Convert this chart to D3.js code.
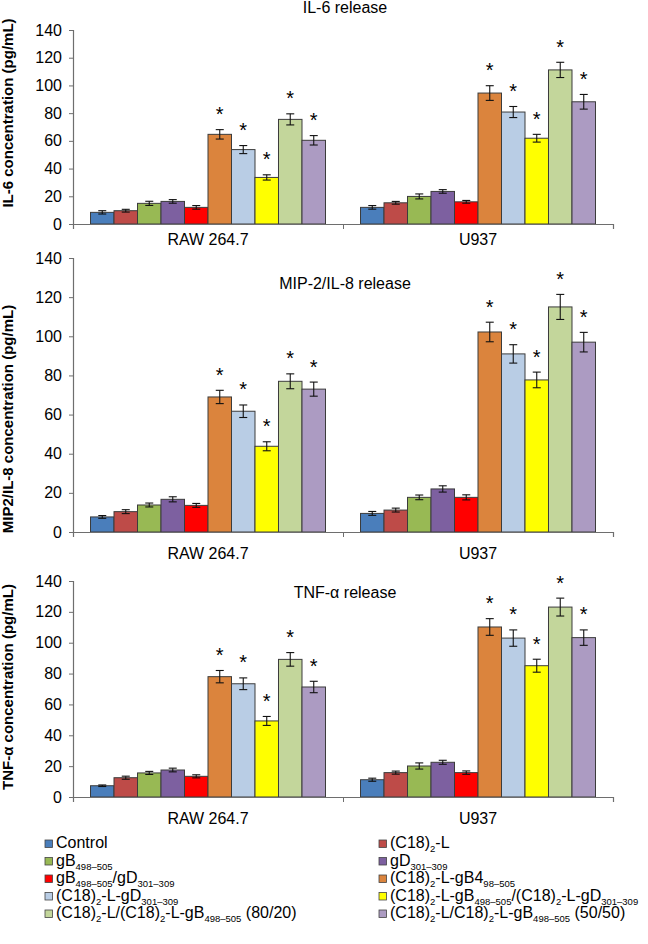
<!DOCTYPE html>
<html><head><meta charset="utf-8">
<script src="https://cdn.jsdelivr.net/npm/d3@7"></script>
<style>
body{margin:0;background:#fff}
svg text{font-family:"Liberation Sans",Arial,sans-serif;fill:#000}
</style>
</head><body>
<svg id="c" width="648" height="944"></svg>
<script>
// ---------------- data ----------------
const categories = ["RAW 264.7", "U937"];
const seriesNames = [
  "Control",
  "(C18)_{2}-L",
  "gB_{498–505}",
  "gD_{301–309}",
  "gB_{498–505}/gD_{301–309}",
  "(C18)_{2}-L-gB4_{98–505}",
  "(C18)_{2}-L-gD_{301–309}",
  "(C18)_{2}-L-gB_{498–505}/(C18)_{2}-L-gD_{301–309}",
  "(C18)_{2}-L/(C18)_{2}-L-gB_{498–505} (80/20)",
  "(C18)_{2}-L/C18)_{2}-L-gB_{498–505} (50/50)"
];
const seriesColors = ["#4A7EBB","#BE4B48","#98B954","#7D60A0","#FF0000","#DB843D","#B9CDE5","#FFFF00","#C3D69B","#AC9BC2"];
const significant = [false,false,false,false,false,true,true,true,true,true];
const yTicks = [0,20,40,60,80,100,120,140];
const panelTitles = ["IL-6 release","MIP-2/IL-8 release","TNF-α release"];
const yTitles = ["IL-6 concentration (pg/mL)","MIP2/IL-8 concentration (pg/mL)","TNF-α concentration (pg/mL)"];

// IL-6
const il6Raw      = [8.4, 9.6, 14.9, 16.3, 12.0, 64.7, 53.7, 33.6, 75.5, 60.4];
const il6RawErr   = [1.2, 1.0, 1.5, 1.3, 1.3, 3.4, 2.9, 1.9, 4.0, 3.4];
const il6U937     = [12.0, 15.3, 19.9, 23.5, 16.0, 94.5, 80.8, 61.9, 111.2, 88.2];
const il6U937Err  = [1.3, 1.0, 1.8, 1.3, 1.0, 5.3, 4.0, 2.8, 5.5, 5.3];
// MIP-2 / IL-8
const mipRaw      = [7.7, 10.4, 13.8, 16.7, 13.6, 69.0, 61.7, 43.8, 77.0, 73.0];
const mipRawErr   = [0.7, 1.0, 1.0, 1.3, 1.0, 3.4, 3.2, 2.3, 3.8, 3.6];
const mipU937     = [9.5, 11.2, 17.7, 22.0, 17.7, 102.2, 91.0, 77.7, 115.0, 97.0];
const mipU937Err  = [1.0, 1.0, 1.2, 1.6, 1.3, 5.0, 4.7, 4.0, 6.4, 5.0];
// TNF-alpha
const tnfRaw      = [7.3, 12.5, 15.6, 17.5, 13.4, 78.0, 73.4, 49.3, 89.2, 71.3];
const tnfRawErr   = [0.5, 1.0, 1.0, 1.2, 1.0, 4.0, 3.8, 2.9, 4.4, 3.7];
const tnfU937     = [11.2, 15.8, 20.1, 22.5, 15.8, 110.2, 103.0, 85.1, 123.1, 103.3];
const tnfU937Err  = [1.0, 1.0, 2.0, 1.3, 1.1, 5.4, 5.3, 4.2, 5.8, 5.0];

const panelValues = [[il6Raw, il6U937],[mipRaw, mipU937],[tnfRaw, tnfU937]];
const panelErrors = [[il6RawErr, il6U937Err],[mipRawErr, mipU937Err],[tnfRawErr, tnfU937Err]];

// ---------------- layout ----------------
const layout = [
  {top:30,  bottom:224, titleY:13,  catY:245, yTitleC:113},
  {top:258, bottom:532, titleY:289, catY:559, yTitleC:419},
  {top:581, bottom:797, titleY:598, catY:824, yTitleC:687}
];
const xLeft = 73, xRight = 613;

const svg = d3.select("#c");
const x0 = d3.scaleBand().domain(categories).range([xLeft, xRight]).padding(0);
const x1 = d3.scaleBand().domain(d3.range(seriesNames.length))
  .range([0, x0.bandwidth()]).paddingInner(0).paddingOuter(0.745);
const xEdges = d3.scaleLinear().domain([0, categories.length]).range([xLeft, xRight]);

layout.forEach((L, p) => {
  const g = svg.append("g");
  const y = d3.scaleLinear().domain([0,140]).range([L.bottom, L.top]);

  // y axis
  const ya = g.append("g").attr("transform", `translate(${xLeft},0)`)
    .call(d3.axisLeft(y).tickValues(yTicks).tickSize(4).tickPadding(7));
  ya.select(".domain").attr("stroke","#6e6e6e").attr("stroke-width",1.2);
  ya.selectAll(".tick line").attr("stroke","#6e6e6e");
  ya.selectAll(".tick text").attr("font-size",16).attr("font-family","'Liberation Sans',Arial,sans-serif").attr("fill","#000");

  // bars
  categories.forEach((cat, ci) => {
    const vals = panelValues[p][ci], errs = panelErrors[p][ci];
    const cg = g.append("g").attr("transform", `translate(${x0(cat)},0)`);
    const d = vals.map((v,i)=>({v, e:errs[i], i}));
    cg.selectAll("rect").data(d).join("rect")
      .attr("x", d=>x1(d.i)).attr("width", x1.bandwidth())
      .attr("y", d=>y(d.v)).attr("height", d=>y(0)-y(d.v))
      .attr("fill", d=>seriesColors[d.i])
      .attr("stroke", "#3c3c3c").attr("stroke-width", 1);
    const eb = cg.selectAll("g.err").data(d).join("g").attr("class","err")
      .attr("stroke","#111").attr("stroke-width",1.1);
    const cx = d=>x1(d.i)+x1.bandwidth()/2;
    eb.append("line").attr("x1",cx).attr("x2",cx).attr("y1",d=>y(d.v+d.e)).attr("y2",d=>y(d.v-d.e));
    eb.append("line").attr("x1",d=>cx(d)-4).attr("x2",d=>cx(d)+4).attr("y1",d=>y(d.v+d.e)).attr("y2",d=>y(d.v+d.e));
    eb.append("line").attr("x1",d=>cx(d)-4).attr("x2",d=>cx(d)+4).attr("y1",d=>y(d.v-d.e)).attr("y2",d=>y(d.v-d.e));
    cg.selectAll("text.star").data(d.filter(d=>significant[d.i])).join("text").attr("class","star")
      .attr("x", cx).attr("y", d=>y(d.v+d.e)-8.5)
      .attr("text-anchor","middle").attr("font-size",20).text("*");
  });

  // x axis
  const xa = g.append("g").attr("transform", `translate(0,${L.bottom})`)
    .call(d3.axisBottom(xEdges).tickValues(d3.range(categories.length+1)).tickSize(5).tickFormat(""));
  xa.select(".domain").attr("stroke","#6e6e6e").attr("stroke-width",1.2);
  xa.selectAll(".tick line").attr("stroke","#6e6e6e");

  g.selectAll("text.cat").data(categories).join("text").attr("class","cat")
    .attr("x", d=>x0(d)+x0.bandwidth()/2).attr("y", L.catY)
    .attr("text-anchor","middle").attr("font-size",16).text(d=>d);

  // panel title
  g.append("text").attr("x", (xLeft+xRight)/2+2).attr("y", L.titleY)
    .attr("text-anchor","middle").attr("font-size",16).text(panelTitles[p]);

  // y title
  g.append("text").attr("transform", `translate(13,${L.yTitleC}) rotate(-90)`)
    .attr("text-anchor","middle").attr("font-size",15).attr("font-weight","bold")
    .text(yTitles[p]);
});

// ---------------- legend ----------------
function richText(sel, s){
  const parts = s.split(/(_\{[^}]*\})/).filter(t=>t.length);
  let sub = false;
  parts.forEach(t=>{
    if (t.startsWith("_{")) {
      sel.append("tspan").attr("font-size",9.5).attr("dy",4).text(t.slice(2,-1));
      sub = true;
    } else {
      sel.append("tspan").attr("font-size",16).attr("dy", sub ? -4 : 0).text(t);
      sub = false;
    }
  });
}
const legX = [45, 379], legTextX = [56, 390];
const legY0 = 848, legDY = 17.5;
const leg = svg.append("g");
seriesNames.forEach((name, i) => {
  const col = i % 2, row = Math.floor(i/2);
  const by = legY0 + row*legDY;
  leg.append("rect").attr("x", legX[col]).attr("y", by-8).attr("width",7.5).attr("height",7.5)
    .attr("fill", seriesColors[i]).attr("stroke","#444").attr("stroke-width",0.8);
  const t = leg.append("text").attr("x", legTextX[col]).attr("y", by);
  richText(t, name);
});
</script>
</body></html>
